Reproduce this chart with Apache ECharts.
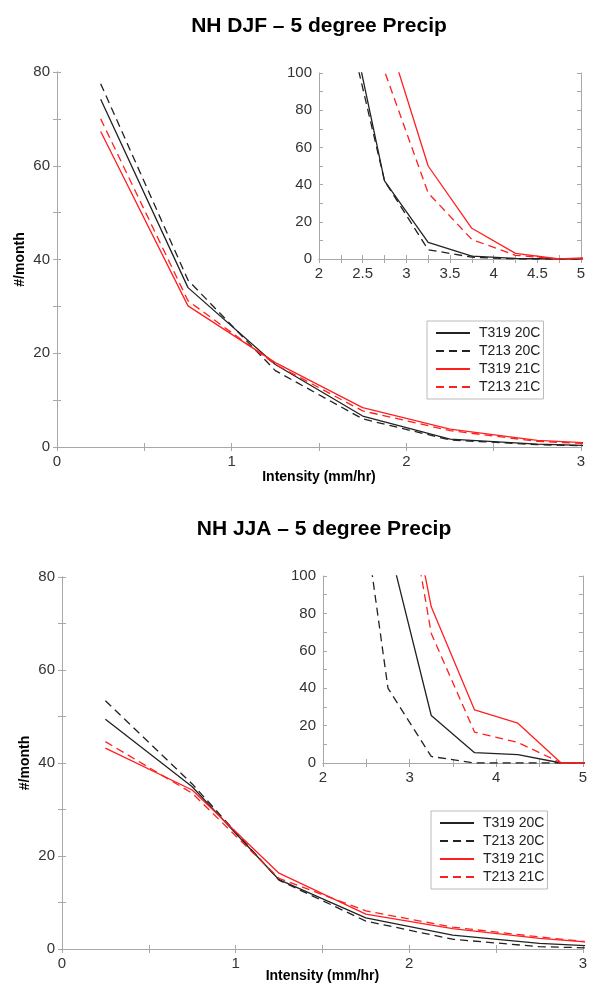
<!DOCTYPE html>
<html>
<head>
<meta charset="utf-8">
<script src="https://cdn.jsdelivr.net/npm/echarts@6/dist/echarts.min.js"></script>
<style>
html,body{margin:0;padding:0;background:#fff;}
#chart{width:590px;height:988px;}
</style>
</head>
<body>
<div id="chart"></div>
<script>
// ---- data ----
var seriesNames = ['T319 20C', 'T213 20C', 'T319 21C', 'T213 21C'];
var xMain = [0.25, 0.75, 1.25, 1.75, 2.25, 2.75, 3.25];
var xInset = [2.25, 2.75, 3.25, 3.75, 4.25, 4.75, 5.25];

// NH DJF main panel
var djfT319_20C = [74.2, 34.0, 17.6, 6.6, 1.7, 0.6, 0.09];
var djfT213_20C = [77.5, 35.6, 16.3, 6.0, 1.5, 0.5, 0.05];
var djfT319_21C = [67.3, 30.1, 18.0, 8.4, 3.8, 1.4, 0.5];
var djfT213_21C = [70.0, 31.2, 17.6, 7.7, 3.5, 1.2, 0.36];
// NH DJF inset
var djfInT319_20C = [153, 42, 9, 1.5, 0.3, 0, 0];
var djfInT213_20C = [142, 42, 5, 1, 0, 0, 0];
var djfInT319_21C = [380, 125, 50, 16.5, 3, 0, 1];
var djfInT213_21C = [350, 101, 35.5, 10.5, 2, 0, 0.5];

// NH JJA main panel
var jjaT319_20C = [49.4, 34.9, 14.9, 6.7, 3.0, 1.2, 0.26];
var jjaT213_20C = [53.4, 35.5, 14.8, 6.0, 2.1, 0.5, 0.04];
var jjaT319_21C = [43.2, 34.2, 16.3, 7.5, 4.4, 2.3, 0.84];
var jjaT213_21C = [44.6, 33.5, 15.2, 8.2, 4.7, 2.6, 0.7];
// NH JJA inset
var jjaInT319_20C = [300, 118.6, 25.4, 5.5, 4.5, 0, 0];
var jjaInT213_20C = [207, 40, 3.5, 0, 0, 0, 0];
var jjaInT319_21C = [440, 201, 83.5, 28.4, 21.3, 0, 0];
var jjaInT213_21C = [470, 203, 69.3, 16.5, 11, 0, 0];

// ---- styling ----
var FONT = 'Liberation Sans, Arial, Helvetica, sans-serif';
var AX = '#a8a8a8';
var BLACK = '#222222';
var RED = '#ff1f1f';
var styles = [
  {color: BLACK, type: 'solid'},
  {color: BLACK, type: [8, 5]},
  {color: RED, type: 'solid'},
  {color: RED, type: [8, 5]}
];

function pairs(xs, ys) {
  return xs.map(function (x, i) { return [x, ys[i]]; });
}

function xAxisPair(grid, min, max, interval, name, nameGap) {
  var base = {
    type: 'value', gridIndex: grid, min: min, max: max, interval: interval,
    axisLine: {show: true, lineStyle: {color: AX, width: 1}},
    axisTick: {show: true, inside: true, length: 4, lineStyle: {color: AX}},
    minorTick: {show: true, splitNumber: 2, length: 4, lineStyle: {color: AX}},
    splitLine: {show: false}
  };
  var bottom = Object.assign({}, base, {
    position: 'bottom',
    axisLabel: {show: true, fontFamily: FONT, fontSize: 15, color: '#333', margin: 7},
    name: name || '', nameLocation: 'middle', nameGap: nameGap || 0, nameMoveOverlap: false,
    nameTextStyle: {fontFamily: FONT, fontSize: 14, fontWeight: 'bold', color: '#000'}
  });
  var top = Object.assign({}, base, {position: 'top', axisLabel: {show: false}});
  return [bottom, top];
}
function yAxisPair(grid, min, max, interval, name, nameGap) {
  var base = {
    type: 'value', gridIndex: grid, min: min, max: max, interval: interval,
    axisLine: {show: true, lineStyle: {color: AX, width: 1}},
    axisTick: {show: true, inside: true, length: 4, lineStyle: {color: AX}},
    minorTick: {show: true, splitNumber: 2, length: 4, lineStyle: {color: AX}},
    splitLine: {show: false}
  };
  var left = Object.assign({}, base, {
    position: 'left',
    axisLabel: {show: true, fontFamily: FONT, fontSize: 15, color: '#333', margin: 7},
    name: name || '', nameLocation: 'middle', nameGap: nameGap || 0, nameRotate: 90,
    nameMoveOverlap: false,
    nameTextStyle: {fontFamily: FONT, fontSize: 14, fontWeight: 'bold', color: '#000'}
  });
  var right = Object.assign({}, base, {position: 'right', axisLabel: {show: false}});
  return [left, right];
}

var grids = [
  {left: 57, top: 72, width: 524, height: 375},     // DJF main
  {left: 319, top: 73, width: 262, height: 186, show: true, backgroundColor: '#fff', borderWidth: 0}, // DJF inset
  {left: 62, top: 577, width: 525, height: 372},    // JJA main
  {left: 323, top: 576, width: 263, height: 187, show: true, backgroundColor: '#fff', borderWidth: 0}  // JJA inset
];

var xAxes = [].concat(
  xAxisPair(0, 0, 3, 1, 'Intensity (mm/hr)', 23),
  xAxisPair(1, 2, 5, 0.5),
  xAxisPair(2, 0, 3, 1, 'Intensity (mm/hr)', 20),
  xAxisPair(3, 2, 5, 1)
);
var yAxes = [].concat(
  yAxisPair(0, 0, 80, 20, '#/month', 30),
  yAxisPair(1, 0, 100, 20),
  yAxisPair(2, 0, 80, 20, '#/month', 30),
  yAxisPair(3, 0, 100, 20)
);

var panels = [
  {axis: 0, xs: xMain, data: [djfT319_20C, djfT213_20C, djfT319_21C, djfT213_21C]},
  {axis: 2, xs: xInset, data: [djfInT319_20C, djfInT213_20C, djfInT319_21C, djfInT213_21C]},
  {axis: 4, xs: xMain, data: [jjaT319_20C, jjaT213_20C, jjaT319_21C, jjaT213_21C]},
  {axis: 6, xs: xInset, data: [jjaInT319_20C, jjaInT213_20C, jjaInT319_21C, jjaInT213_21C]}
];

var series = [];
panels.forEach(function (p) {
  p.data.forEach(function (ys, i) {
    series.push({
      type: 'line', name: seriesNames[i],
      xAxisIndex: p.axis, yAxisIndex: p.axis,
      data: pairs(p.xs, ys),
      symbol: 'none', clip: true, animation: false,
      lineStyle: {color: styles[i].color, type: styles[i].type, width: 1.3},
      itemStyle: {color: styles[i].color}
    });
  });
});

function legendAt(left, top) {
  return {
    orient: 'vertical', left: left, top: top,
    padding: [4, 3, 4, 8],
    itemWidth: 34, itemHeight: 14, itemGap: 2,
    backgroundColor: '#fff', borderColor: '#bbb', borderWidth: 1,
    selectedMode: false,
    itemStyle: {color: 'rgba(0,0,0,0)', borderColor: 'rgba(0,0,0,0)', borderWidth: 0},
    textStyle: {fontFamily: FONT, fontSize: 14, color: '#222', lineHeight: 16, padding: [0, 0, 0, 4]},
    data: seriesNames
  };
}

var option = {
  animation: false,
  backgroundColor: '#fff',
  title: [
    {text: 'NH DJF \u2013 5 degree Precip', left: 319, top: 16, textAlign: 'center', padding: 0,
     textStyle: {fontFamily: FONT, fontSize: 21, fontWeight: 'bold', color: '#000'}},
    {text: 'NH JJA \u2013 5 degree Precip', left: 324, top: 519, textAlign: 'center', padding: 0,
     textStyle: {fontFamily: FONT, fontSize: 21, fontWeight: 'bold', color: '#000'}}
  ],
  legend: [legendAt(427, 321), legendAt(431, 811)],
  grid: grids,
  xAxis: xAxes,
  yAxis: yAxes,
  series: series
};

var chart = echarts.init(document.getElementById('chart'), null, {renderer: 'canvas'});
chart.setOption(option);
</script>
</body>
</html>
